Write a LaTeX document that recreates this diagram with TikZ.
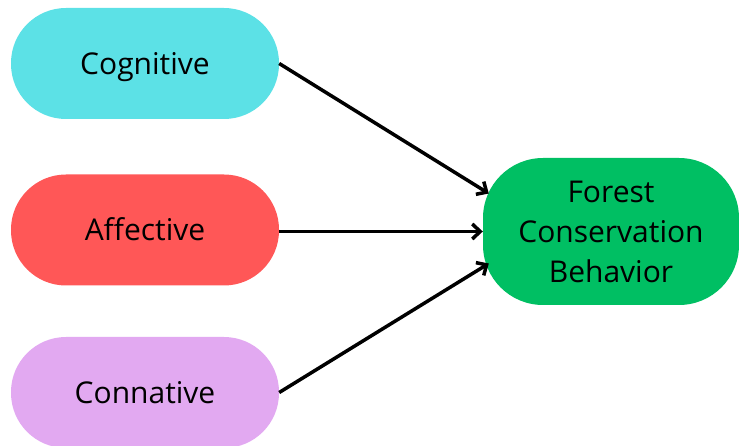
\documentclass[tikz,border=0pt]{standalone}
\usepackage{fontspec}
\setmainfont{Open Sans}
\usetikzlibrary{arrows.meta,calc}
\definecolor{cogc}{HTML}{5CE1E6}
\definecolor{affc}{HTML}{FF5757}
\definecolor{conc}{HTML}{E2A9F1}
\definecolor{fcbc}{HTML}{00BF63}
\begin{document}
\begin{tikzpicture}[
  pill/.style={rectangle, rounded corners=55pt, minimum width=268pt, minimum height=111pt, inner sep=0pt, text height=26pt, text depth=4pt, font=\fontsize{30}{36}\selectfont, text=black},
  goal/.style={rectangle, rounded corners=60pt, minimum width=256pt, minimum height=147pt, inner sep=0pt, align=center, font=\fontsize{30}{40}\selectfont, text=black, fill=fcbc},
  arr/.style={-{Straight Barb[length=8pt,width=15pt,line width=3.5pt]}, line width=3.5pt, black}
]
\useasboundingbox (0,0) rectangle (739pt,-446pt);
\clip (0,0) rectangle (739pt,-446pt);
\node[pill, fill=cogc] (cog) at (145pt,-63.5pt) {Cognitive};
\node[pill, fill=affc] (aff) at (145pt,-230pt) {Affective};
\node[pill, fill=conc] (con) at (145pt,-392.5pt) {Connative};
\node[goal] (fcb) at (611pt,-231.5pt) {Forest\\Conservation\\Behavior};
\draw[arr] (cog.east) -- ($(fcb.west)+(6pt,38pt)$);
\draw[arr] ($(aff.east)+(0,-1.5pt)$) -- (fcb.west);
\draw[arr] (con.east) -- ($(fcb.west)+(6pt,-32pt)$);
\end{tikzpicture}
\end{document}
